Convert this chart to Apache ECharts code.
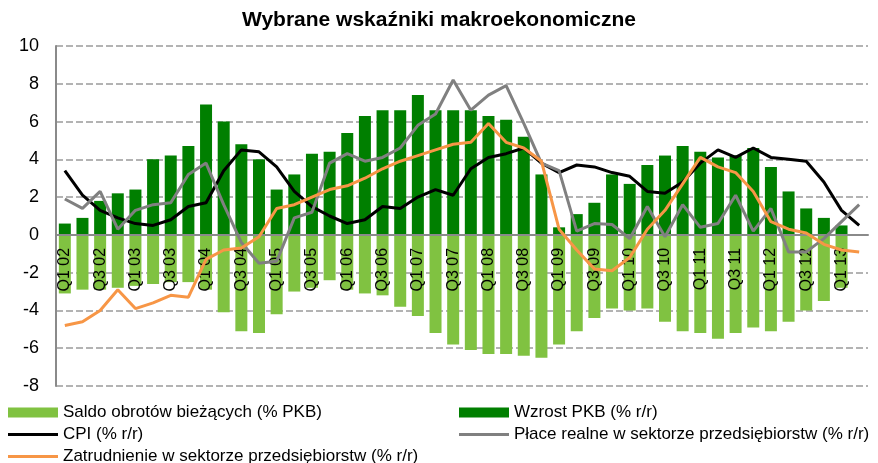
<!DOCTYPE html>
<html>
<head>
<meta charset="utf-8">
<script src="https://cdn.jsdelivr.net/npm/echarts@6/dist/echarts.min.js"></script>
<style>
  html, body { margin: 0; padding: 0; background: #fff; }
  #main { width: 878px; height: 463px; }
</style>
</head>
<body>
<div id="main"></div>
<script>
// quarters Q1 02 .. Q2 13
const quarters = [];
for (let y = 2; y <= 13; y++) {
  for (let q = 1; q <= 4; q++) {
    if (y === 13 && q > 2) break;
    quarters.push('Q' + q + ' ' + String(y).padStart(2, '0'));
  }
}

// Saldo obrotów bieżących (% PKB)
const saldo = [-3.1, -2.9, -2.9, -2.8, -2.7, -2.6, -2.5, -2.5, -2.9, -4.1, -5.1, -5.2, -4.2, -3.0, -2.8, -2.4,
  -2.9, -3.1, -3.2, -3.8, -4.3, -5.2, -5.8, -6.1, -6.3, -6.3, -6.4, -6.5, -5.8, -5.1, -4.4, -3.9,
  -4.0, -3.9, -4.6, -5.1, -5.2, -5.5, -5.2, -4.9, -5.1, -4.6, -4.0, -3.5, -2.8, null];

// Wzrost PKB (% r/r)
const pkb = [0.6, 0.9, 1.8, 2.2, 2.4, 4.0, 4.2, 4.7, 6.9, 6.0, 4.8, 4.0, 2.4, 3.2, 4.3, 4.4,
  5.4, 6.3, 6.6, 6.6, 7.4, 6.6, 6.6, 6.6, 6.3, 6.1, 5.2, 3.2, 0.4, 1.1, 1.7, 3.2,
  2.7, 3.7, 4.2, 4.7, 4.4, 4.1, 4.2, 4.6, 3.6, 2.3, 1.4, 0.9, 0.5, null];

// CPI (% r/r)
const cpi = [3.4, 2.1, 1.3, 0.9, 0.6, 0.5, 0.8, 1.5, 1.7, 3.4, 4.5, 4.4, 3.6, 2.3, 1.5, 1.0,
  0.6, 0.8, 1.5, 1.4, 2.0, 2.4, 2.1, 3.5, 4.1, 4.3, 4.6, 3.8, 3.3, 3.7, 3.6, 3.3,
  3.1, 2.3, 2.2, 2.8, 3.8, 4.5, 4.1, 4.6, 4.1, 4.0, 3.9, 2.8, 1.3, 0.5];

// Płace realne w sektorze przedsiębiorstw (% r/r)
const place = [1.9, 1.4, 2.3, 0.3, 1.3, 1.6, 1.7, 3.2, 3.8, 1.6, -0.4, -1.5, -1.4, 0.9, 1.2, 3.8,
  4.3, 3.9, 4.1, 4.6, 5.8, 6.4, 8.2, 6.6, 7.4, 7.9, 5.9, 3.8, 3.4, 0.2, 0.6, 0.55,
  -0.2, 1.5, -0.1, 1.6, 0.4, 0.6, 2.1, 0.2, 1.4, -0.9, -0.9, -0.2, 0.7, 1.6];

// Zatrudnienie w sektorze przedsiębiorstw (% r/r)
const zatrudnienie = [-4.8, -4.6, -4.0, -2.9, -3.9, -3.6, -3.2, -3.3, -1.3, -0.8, -0.7, -0.1, 1.4, 1.6, 2.0, 2.4,
  2.6, 3.0, 3.5, 3.9, 4.2, 4.5, 4.8, 4.9, 5.9, 4.9, 4.6, 3.9, 0.3, -0.8, -1.8, -1.9,
  -1.2, 0.3, 1.3, 2.7, 4.1, 3.6, 3.3, 2.3, 0.7, 0.3, 0.1, -0.5, -0.8, -0.9];

const yTicks = { min: -8, max: 10, interval: 2 };

const names = {
  saldo: 'Saldo obrotów bieżących (% PKB)',
  pkb: 'Wzrost PKB (% r/r)',
  cpi: 'CPI (% r/r)',
  place: 'Płace realne w sektorze przedsiębiorstw (% r/r)',
  zatr: 'Zatrudnienie w sektorze przedsiębiorstw (% r/r)'
};

const FONT = "'Liberation Sans', Arial, sans-serif";
const chart = echarts.init(document.getElementById('main'));

// grid box, used to put the category labels on the zero line
const gridTop = 46, gridBottom = 77, chartH = 463;
const plotH = chartH - gridTop - gridBottom;
const zeroOffset = -plotH * (0 - yTicks.min) / (yTicks.max - yTicks.min);

const lineSeries = (name, data, color) => ({
  name: name,
  type: 'line',
  data: data,
  symbol: 'none',
  smooth: false,
  lineStyle: { color: color, width: 3 },
  itemStyle: { color: color },
  z: 4
});

// one legend per entry so the two-column layout is exact
const legendItem = (name, left, top, isBar) => ({
  left: left,
  top: top,
  itemWidth: 50,
  itemHeight: isBar ? 10 : 3,
  textStyle: { fontFamily: FONT, fontSize: 17, color: '#000' },
  data: [{ name: name, icon: 'rect' }]
});

const option = {
  backgroundColor: '#fff',
  animation: false,
  textStyle: { fontFamily: FONT },
  title: {
    text: 'Wybrane wskaźniki makroekonomiczne',
    left: 'center',
    top: 5,
    textStyle: { fontFamily: FONT, fontSize: 21, fontWeight: 'bold', color: '#000' }
  },
  grid: { left: 56, right: 10, top: gridTop, bottom: gridBottom, containLabel: false },
  legend: [
    legendItem(names.saldo, 3, 399, true),
    legendItem(names.cpi, 3, 421, false),
    legendItem(names.zatr, 3, 443, false),
    legendItem(names.pkb, 454, 399, true),
    legendItem(names.place, 454, 421, false)
  ],
  xAxis: {
    type: 'category',
    data: quarters,
    boundaryGap: true,
    offset: zeroOffset,
    z: 3,
    axisLine: { onZero: false, lineStyle: { color: '#8a8a8a', width: 2 } },
    axisTick: { show: false },
    axisLabel: {
      interval: 1,
      rotate: 90,
      margin: 13,
      fontSize: 16,
      fontFamily: FONT,
      color: '#000'
    },
    splitLine: { show: false }
  },
  yAxis: {
    type: 'value',
    min: yTicks.min,
    max: yTicks.max,
    interval: yTicks.interval,
    axisLine: { show: true, lineStyle: { color: '#8a8a8a', width: 2 } },
    axisTick: { show: false },
    axisLabel: { fontSize: 18, fontFamily: FONT, color: '#000', margin: 17 },
    splitLine: { lineStyle: { color: '#9a9a9a', width: 1.5, type: [7, 3] } }
  },
  series: [
    {
      name: names.saldo,
      type: 'bar',
      data: saldo,
      barWidth: 12,
      barGap: '-100%',
      itemStyle: { color: '#80c241' },
      z: 2
    },
    {
      name: names.pkb,
      type: 'bar',
      data: pkb,
      barWidth: 12,
      barGap: '-100%',
      itemStyle: { color: '#007f00' },
      z: 2
    },
    lineSeries(names.cpi, cpi, '#000000'),
    lineSeries(names.place, place, '#808080'),
    lineSeries(names.zatr, zatrudnienie, '#f79646')
  ]
};

chart.setOption(option);
</script>
</body>
</html>
